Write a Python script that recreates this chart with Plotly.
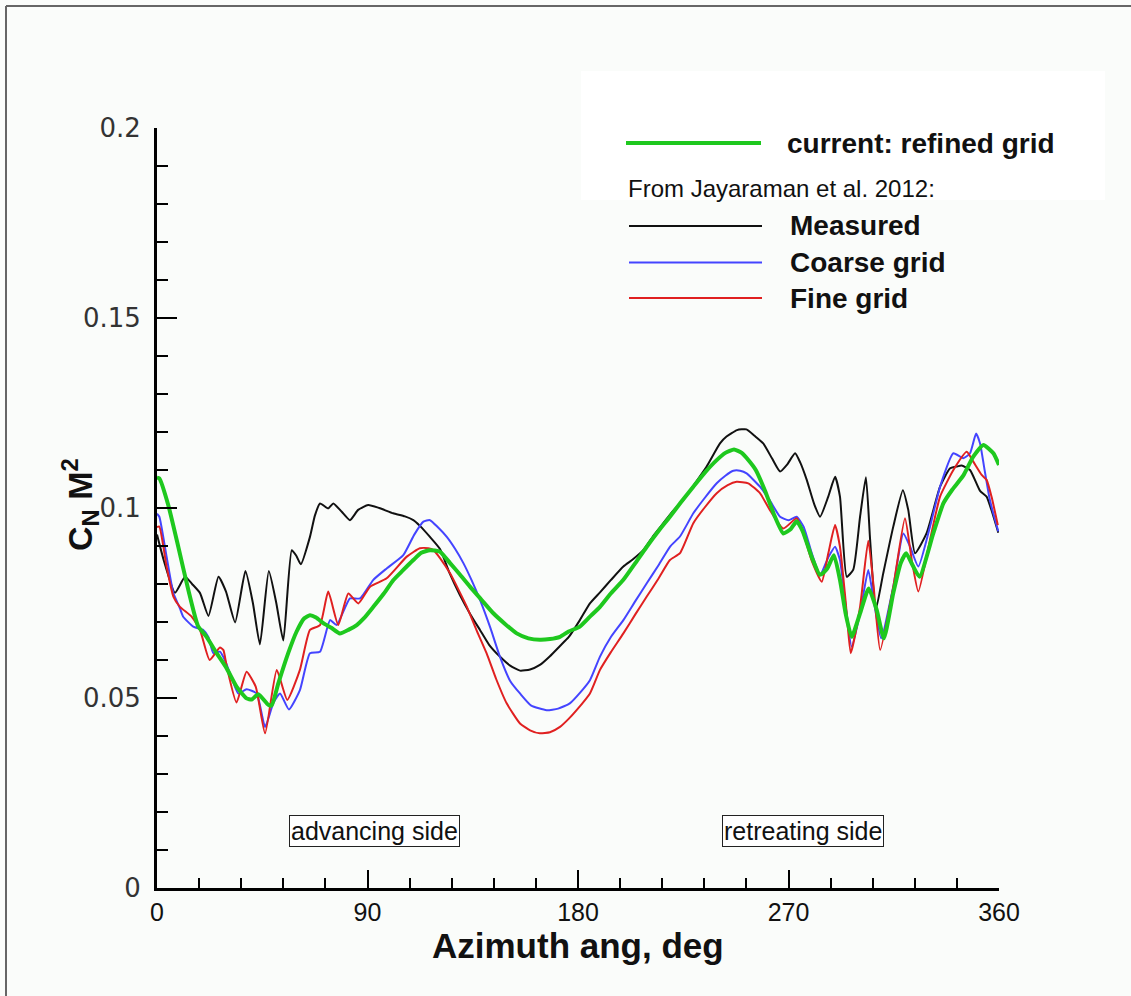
import plotly.graph_objects as go

# ---------------- data ----------------
az_measured = [0, 3, 7.7, 12, 15, 18.4, 22, 26.3, 29.5, 33.4, 37.8, 41, 44, 47.8, 51, 54, 57.6,
               59.5, 61.5, 65.4, 67.5, 69.7, 73.2, 75.4, 79, 82.5, 86, 90.3, 95, 101, 106, 109.6,
               112.4, 116.7, 121, 125, 129.5, 134, 138.1, 142, 146.6, 151, 155.2, 159.5, 163.7,
               168, 172.3, 176, 180.8, 185.1, 189.4, 194, 199.4, 203.5, 207.9, 212, 216.5, 220,
               225, 229.5, 235, 240.7, 243.5, 248, 252, 255.5, 259.2, 263, 266.4, 269.5, 272.8,
               275, 277.8, 281, 283.5, 287, 289.9, 292, 294.9, 297.7, 300.6, 303.1, 304.9, 307.3,
               310.5, 314.8, 318.9, 321.2, 324.1, 329, 334.8, 339, 341.9, 344, 347.6, 351.9,
               354.7, 357, 359.7]
cn_measured = [0.093, 0.086, 0.0777, 0.0819, 0.080, 0.0776, 0.0716, 0.0819, 0.078, 0.0699, 0.0834,
               0.075, 0.0641, 0.0834, 0.075, 0.0651, 0.0889, 0.0875, 0.0852, 0.0924, 0.098, 0.1012,
               0.0999, 0.1012, 0.099, 0.0968, 0.0995, 0.1008, 0.1, 0.0986, 0.0978, 0.0968, 0.0953,
               0.0924, 0.0892, 0.083, 0.0771, 0.072, 0.0679, 0.064, 0.0609, 0.0585, 0.0572, 0.0575,
               0.0587, 0.061, 0.0637, 0.066, 0.0705, 0.0749, 0.0778, 0.081, 0.0846, 0.0865, 0.0889,
               0.0925, 0.096, 0.0988, 0.1021, 0.106, 0.1109, 0.117, 0.1188, 0.1205, 0.1207, 0.119,
               0.117, 0.113, 0.1096, 0.1115, 0.1144, 0.112, 0.1074, 0.101, 0.0977, 0.103, 0.1082,
               0.103, 0.0819, 0.0838, 0.0977, 0.1081, 0.0916, 0.0732, 0.0828, 0.0951, 0.1047,
               0.0995, 0.0881, 0.0933, 0.1056, 0.1104, 0.1109, 0.1112, 0.11, 0.1045, 0.103, 0.099,
               0.0935]

az_coarse = [0, 1, 4.1, 7, 9.8, 11.2, 15.5, 19.8, 22, 24.1, 26.9, 29, 31.2, 34.8, 38.3, 42.6, 46.2,
             49.7, 52.6, 56.4, 61.1, 65.4, 69.7, 74, 76.8, 82.5, 86.8, 92.5, 98.2, 105.3, 110,
             113.9, 116.7, 120, 123.9, 127.5, 131, 134.5, 138.1, 142.5, 146.6, 151, 155.2, 160,
             166.6, 171.5, 176.5, 181, 185.1, 189.4, 194, 199.4, 204.5, 209.4, 214.5, 219.3, 223.6,
             229.3, 234, 239.3, 243, 246.4, 249.3, 252.1, 257.8, 262, 266.4, 270, 273.5, 276.5, 280,
             283.5, 287, 289.9, 292, 294.5, 297, 300.6, 304.1, 306.4, 309.6, 314.8, 319.1, 322,
             325.5, 330.5, 334.8, 340.5, 344.7, 347.6, 350.2, 351.9, 353.6, 356.1, 359.7]
cn_coarse = [0.0985, 0.0977, 0.0872, 0.0776, 0.0736, 0.0714, 0.0688, 0.0679, 0.066, 0.0618, 0.0622,
             0.060, 0.0565, 0.0512, 0.0523, 0.0512, 0.0424, 0.0486, 0.0512, 0.047, 0.0521, 0.0618,
             0.0622, 0.0705, 0.0692, 0.0762, 0.0762, 0.0811, 0.0841, 0.0876, 0.093, 0.0964, 0.0968,
             0.095, 0.0924, 0.0892, 0.0855, 0.081, 0.0758, 0.0685, 0.0609, 0.0545, 0.0512, 0.048,
             0.0468, 0.0472, 0.0486, 0.0515, 0.0547, 0.0609, 0.066, 0.0705, 0.0755, 0.0802, 0.085,
             0.0898, 0.0925, 0.0986, 0.1025, 0.1065, 0.1085, 0.1098, 0.1098, 0.1091, 0.1056, 0.102,
             0.0977, 0.0968, 0.0977, 0.095, 0.088, 0.0824, 0.087, 0.0898, 0.0863, 0.074, 0.0635,
             0.0723, 0.0837, 0.0758, 0.0657, 0.0793, 0.0933, 0.0898, 0.0846, 0.0951, 0.1056,
             0.1144, 0.1131, 0.1144, 0.1196, 0.117, 0.1109, 0.1021, 0.0938]

az_fine = [0, 1, 4.1, 7, 9.8, 14.8, 18.4, 22.5, 26.9, 28.4, 29.8, 34, 38.3, 42.2, 46.2, 51.2, 55.7,
           61.1, 65.4, 69.7, 73.2, 77.5, 81.8, 86.1, 91.1, 98.2, 106.8, 112.4, 116, 118.2, 121,
           125.3, 132.4, 136.5, 140.9, 145, 149.5, 155.2, 159.5, 163.7, 168, 172.3, 176, 179.4,
           185.1, 189.4, 194, 199.4, 204.5, 209.4, 214.5, 219.3, 223.6, 229.3, 234, 239.3, 244,
           247.8, 252.8, 257.8, 262, 267.8, 273.5, 276.5, 280, 284.2, 287, 289.9, 292, 294.5,
           296.6, 300.6, 304.1, 306.4, 309.2, 314.8, 319.8, 322.7, 325.5, 330.5, 334.8, 340.5,
           346.2, 349, 352.6, 354.7, 356.8, 359.5]
cn_fine = [0.095, 0.0951, 0.0846, 0.0767, 0.074, 0.0714, 0.0679, 0.060, 0.0633, 0.0626, 0.0583,
           0.0488, 0.0569, 0.053, 0.0407, 0.0574, 0.0495, 0.0574, 0.0679, 0.0692, 0.078, 0.0692,
           0.0775, 0.0749, 0.0793, 0.0815, 0.0872, 0.0894, 0.0894, 0.0889, 0.0868, 0.0828, 0.0741,
           0.068, 0.0618, 0.055, 0.0486, 0.0433, 0.0415, 0.0407, 0.041, 0.0424, 0.0445, 0.0468,
           0.0512, 0.0574, 0.062, 0.067, 0.072, 0.0767, 0.0815, 0.0863, 0.0881, 0.096, 0.1, 0.1039,
           0.106, 0.1069, 0.1065, 0.1039, 0.0995, 0.0946, 0.0973, 0.093, 0.086, 0.0806, 0.088,
           0.0955, 0.0898, 0.075, 0.0618, 0.074, 0.0914, 0.0793, 0.0626, 0.0793, 0.0973, 0.0863,
           0.078, 0.0916, 0.103, 0.11, 0.1148, 0.1122, 0.1087, 0.1074, 0.103, 0.0955]

az_refined = [0, 1, 4.8, 9.1, 13.4, 17.5, 21.2, 25.5, 29.8, 34, 38.3, 40.5, 43.3, 47.6, 49, 51.9,
              56.1, 59.7, 63, 65.4, 68, 71.1, 74.5, 78.2, 82, 85.4, 88.5, 92.5, 97, 101, 105, 109.6,
              113, 116.7, 121, 125.3, 129.5, 133.8, 138.8, 143.8, 148.8, 153.8, 158.8, 163.7, 168,
              172.3, 176, 180.8, 185.1, 189.4, 194, 199.4, 204.5, 209.4, 214.5, 219.3, 224, 229.3,
              234.5, 239.3, 243, 246.7, 250, 253, 256, 260, 264, 267.8, 271, 273.5, 276, 280,
              283.5, 286.5, 289.4, 292, 294.5, 297, 300.6, 304.3, 307.7, 310.8, 314.8, 318, 320.3,
              323, 326, 331.9, 336.2, 340, 344.7, 349, 353.3, 357.6, 360]
cn_refined = [0.108, 0.1078, 0.1008, 0.0898, 0.0784, 0.069, 0.0661, 0.0618, 0.0578, 0.053, 0.0499,
              0.0496, 0.051, 0.0482, 0.048, 0.0539, 0.0618, 0.0675, 0.071, 0.0718, 0.0712, 0.0697,
              0.0685, 0.067, 0.068, 0.0692, 0.071, 0.074, 0.0775, 0.081, 0.0835, 0.0863, 0.0882,
              0.0889, 0.0885, 0.0855, 0.0825, 0.0793, 0.0758, 0.0723, 0.0695, 0.067, 0.0657,
              0.0653, 0.0655, 0.0661, 0.0675, 0.0688, 0.0714, 0.074, 0.0775, 0.0811, 0.0855,
              0.0898, 0.094, 0.0977, 0.1015, 0.1056, 0.1095, 0.1126, 0.1145, 0.1154, 0.1145,
              0.1125, 0.11, 0.1045, 0.098, 0.0933, 0.0945, 0.0965, 0.094, 0.087, 0.0824, 0.084,
              0.0876, 0.0811, 0.072, 0.0661, 0.0723, 0.0788, 0.0732, 0.0657, 0.0776, 0.0855,
              0.0881, 0.085, 0.0819, 0.0933, 0.1012, 0.1048, 0.1085, 0.1135, 0.1166, 0.1144, 0.1113]

x_ticks = [0, 90, 180, 270, 360]
y_ticks = [0, 0.05, 0.1, 0.15, 0.2]
y_tick_text = ["0", "0.05", "0.1", "0.15", "0.2"]

series = [
    ("Measured", az_measured, cn_measured, "#111111", 2),
    ("Coarse grid", az_coarse, cn_coarse, "#4444ff", 2),
    ("Fine grid", az_fine, cn_fine, "#e02020", 2),
    ("current: refined grid", az_refined, cn_refined, "#1ec81e", 4),
]

BG = "#fafcfa"
fig = go.Figure()
for name, xs, ys, col, w in series:
    fig.add_trace(go.Scatter(x=xs, y=ys, mode="lines", name=name,
                             line=dict(color=col, width=w, shape="spline", smoothing=0.5),
                             showlegend=False))

# plot area: x 157..999 px, y 128..888 px
L, R, T, B = 157, 999, 128, 888
W, H = 1131, 996


def px(xp):
    return (xp - L) / (R - L)


def py(yp):
    return (B - yp) / (B - T)


shapes = []
annotations = []
# outer frame (left/top)
shapes.append(dict(type="line", xref="paper", yref="paper", x0=px(6), x1=px(6), y0=py(6), y1=py(W + 10),
                   line=dict(color="#666666", width=2)))
shapes.append(dict(type="line", xref="paper", yref="paper", x0=px(6), x1=px(W + 10), y0=py(6), y1=py(6),
                   line=dict(color="#666666", width=2)))
# white legend header box
shapes.append(dict(type="rect", xref="paper", yref="paper", x0=px(581), x1=px(1105), y0=py(200), y1=py(71),
                   fillcolor="white", line=dict(width=0), layer="below"))

legend_rows = [
    ("current: refined grid", "#1ec81e", 4, 143, 626, 761, 785),
    ("Measured", "#111111", 2, 226, 629, 762, 788),
    ("Coarse grid", "#4444ff", 2, 262.5, 629, 762, 788),
    ("Fine grid", "#e02020", 2, 298, 629, 762, 788),
]
for text, col, w, yy, xa, xb, xt in legend_rows:
    shapes.append(dict(type="line", xref="paper", yref="paper", x0=px(xa), x1=px(xb), y0=py(yy), y1=py(yy),
                       line=dict(color=col, width=w)))
    annotations.append(dict(xref="paper", yref="paper", x=px(xt), y=py(yy), text=f"<b>{text}</b>",
                            showarrow=False, xanchor="left", yanchor="middle",
                            font=dict(family="Liberation Sans, Arial", size=28, color="#111111")))
annotations.append(dict(xref="paper", yref="paper", x=px(626), y=py(188), text="From Jayaraman et al. 2012:",
                        showarrow=False, xanchor="left", yanchor="middle",
                        font=dict(family="Liberation Sans, Arial", size=24, color="#111111")))

# side labels
for txt, xc in [("advancing side", 92.8), ("retreating side", 276.2)]:
    annotations.append(dict(x=xc, y=0.015, xref="x", yref="y", text=txt, showarrow=False,
                            xanchor="center", yanchor="middle", bgcolor="white",
                            bordercolor="#222222", borderwidth=1, borderpad=1,
                            font=dict(family="Liberation Sans, Arial", size=25, color="#111111")))

# axis titles
annotations.append(dict(xref="paper", yref="paper", x=0.5, y=py(945), text="<b>Azimuth ang, deg</b>",
                        showarrow=False, xanchor="center", yanchor="middle",
                        font=dict(family="Liberation Sans, Arial", size=35, color="#111111")))
annotations.append(dict(xref="paper", yref="paper", x=px(80), y=py(505),
                        text="<b>C<sub>N</sub> M<sup>2</sup></b>", textangle=-90,
                        showarrow=False, xanchor="center", yanchor="middle",
                        font=dict(family="Liberation Sans, Arial", size=34, color="#111111")))

fig.update_layout(
    width=W, height=H,
    margin=dict(l=L, r=W - R, t=T, b=H - B, pad=0),
    paper_bgcolor=BG, plot_bgcolor=BG,
    shapes=shapes, annotations=annotations,
    showlegend=False,
)
fig.update_xaxes(range=[0, 360], showgrid=False, zeroline=False, showline=True, linecolor="black",
                 linewidth=3, ticks="inside", ticklen=18, tickwidth=2, tickcolor="black",
                 tickvals=x_ticks, ticklabelstandoff=0,
                 tickfont=dict(family="Liberation Sans, Arial", size=25, color="#111111"),
                 minor=dict(ticks="inside", ticklen=10, tickwidth=1.5, tickcolor="black", dtick=18,
                            showgrid=False))
fig.update_yaxes(range=[0, 0.2], showgrid=False, zeroline=False, showline=True, linecolor="black",
                 linewidth=3, ticks="inside", ticklen=20, tickwidth=2, tickcolor="black",
                 tickvals=y_ticks, ticktext=y_tick_text, ticklabelstandoff=8,
                 tickfont=dict(family="DejaVu Sans", size=26, color="#333333"),
                 minor=dict(ticks="inside", ticklen=11, tickwidth=1.5, tickcolor="black", dtick=0.01,
                            showgrid=False))

fig.write_html("out.html", config={"displayModeBar": False},
               post_script="document.body.style.margin='0';document.body.style.background='%s';" % BG)
